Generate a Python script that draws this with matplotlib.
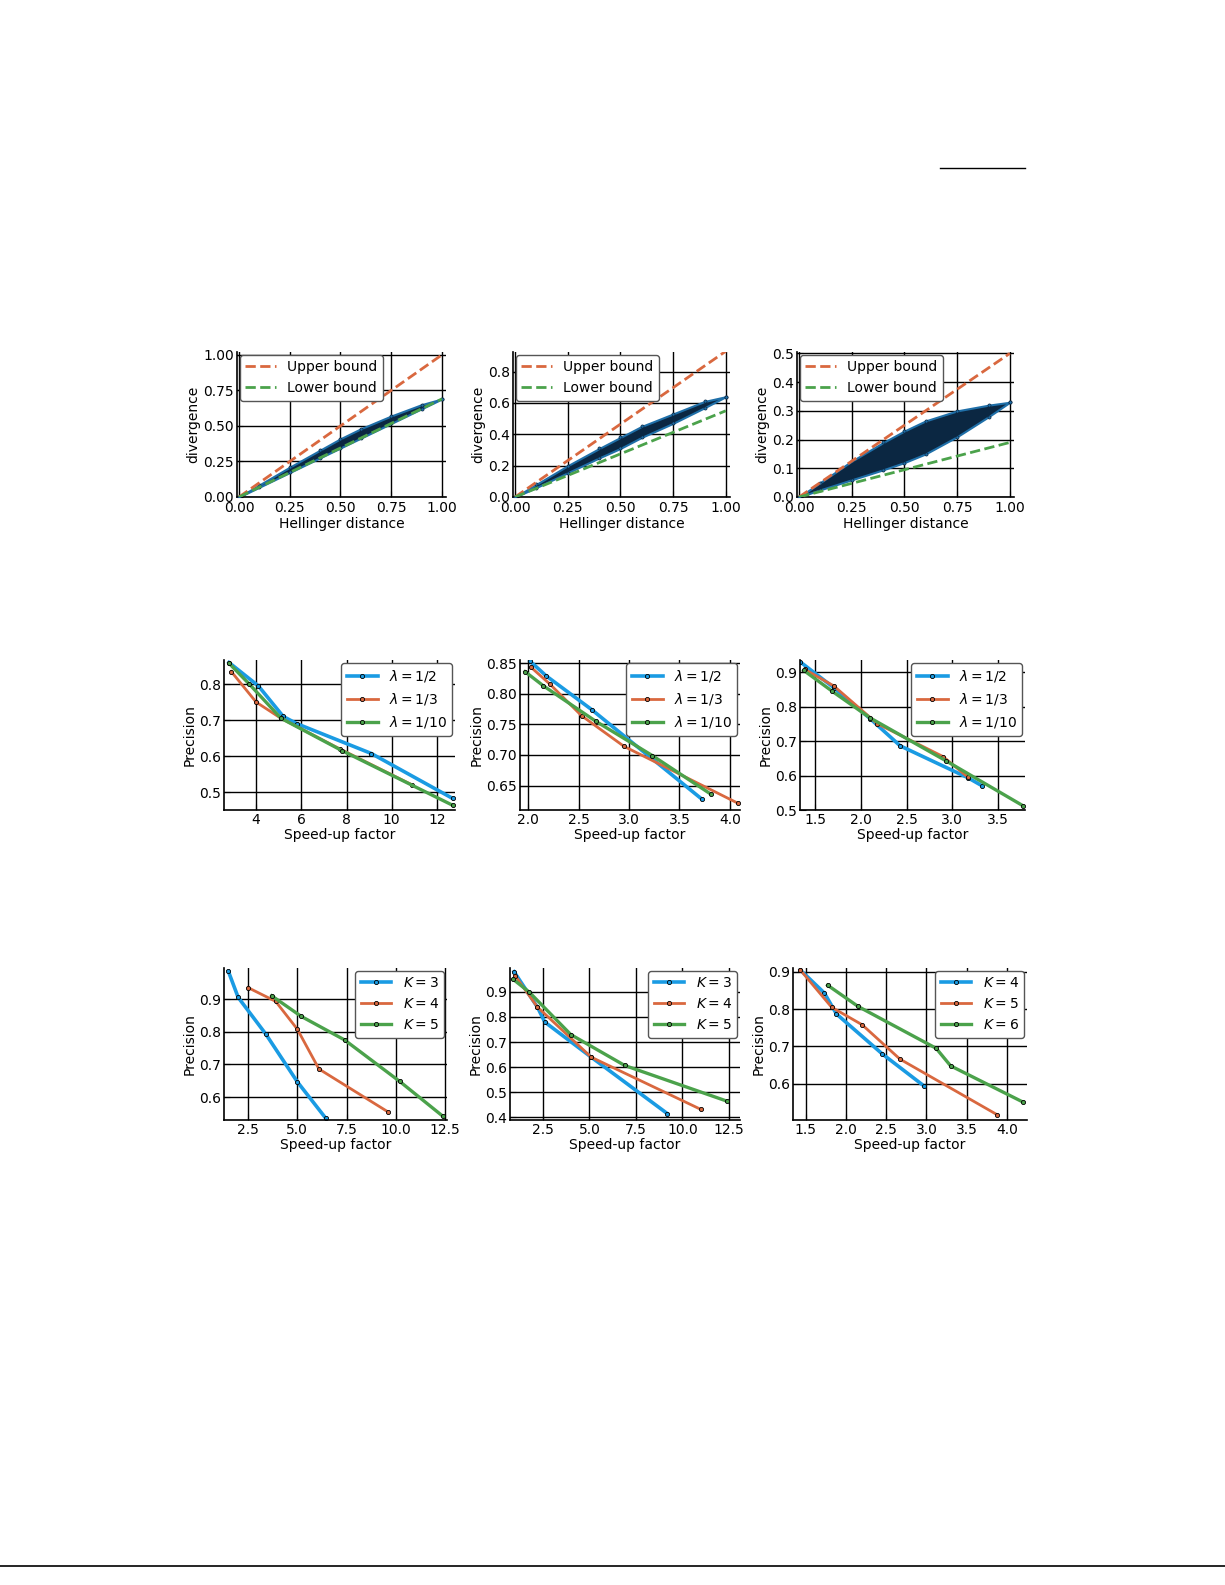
import matplotlib
matplotlib.use("Agg")
import matplotlib.pyplot as plt
from matplotlib.lines import Line2D
import numpy as np

plt.rcParams['font.family'] = ['DejaVu Sans']
plt.rcParams['mathtext.fontset'] = 'dejavusans'

W, H = 1225, 1585
BLUE, ORANGE, GREEN = "#1a9be3", "#d9683f", "#4ba24b"

# ---- Row 1: divergence vs Hellinger ----
hx = [0, 0.1, 0.25, 0.4, 0.5, 0.6, 0.75, 0.9, 1.0]
cloud_up = [[0, 0.085, 0.21, 0.33, 0.41, 0.48, 0.57, 0.65, 0.69],
            [0, 0.08, 0.2, 0.31, 0.38, 0.45, 0.53, 0.61, 0.64],
            [0, 0.05, 0.125, 0.19, 0.23, 0.265, 0.30, 0.32, 0.33]]
cloud_lo = [[0, 0.069, 0.1725, 0.276, 0.345, 0.414, 0.5175, 0.621, 0.69],
            [0, 0.06, 0.155, 0.25, 0.31, 0.38, 0.47, 0.57, 0.64],
            [0, 0.025, 0.06, 0.095, 0.12, 0.15, 0.21, 0.28, 0.33]]
upper_slope = [1.0, 0.93, 0.5]
lower_slope = [0.69, 0.55, 0.19]
r1_ylim = [(0, 1.02), (0, 0.925), (0, 0.505)]
r1_yticks = [[0, 0.25, 0.5, 0.75, 1.0], [0, 0.2, 0.4, 0.6, 0.8], [0, 0.1, 0.2, 0.3, 0.4, 0.5]]
r1_yfmt = ["%.2f", "%.1f", "%.1f"]

# ---- Row 2: lambda ----
lam_labels = [r"$\lambda = 1/2$", r"$\lambda = 1/3$", r"$\lambda = 1/10$"]
r2 = [
    [([2.8, 4.1, 5.2, 5.8, 9.1, 12.7], [0.86, 0.795, 0.71, 0.69, 0.607, 0.482]),
     ([2.9, 4.0, 5.1, 7.7, 10.9], [0.835, 0.75, 0.705, 0.62, 0.52]),
     ([2.8, 3.7, 5.1, 7.8, 12.7], [0.858, 0.80, 0.705, 0.615, 0.463])],
    [([2.02, 2.18, 2.63, 3.72], [0.853, 0.829, 0.774, 0.628]),
     ([2.03, 2.22, 2.53, 2.95, 4.08], [0.843, 0.815, 0.764, 0.714, 0.621]),
     ([1.97, 2.15, 2.67, 3.23, 3.81], [0.836, 0.813, 0.755, 0.699, 0.636])],
    [([1.33, 1.7, 2.1, 2.43, 3.17, 3.33], [0.93, 0.855, 0.765, 0.686, 0.594, 0.57]),
     ([1.38, 1.7, 2.18, 2.9, 3.17], [0.908, 0.86, 0.75, 0.655, 0.596]),
     ([1.37, 1.68, 2.1, 2.93, 3.78], [0.905, 0.845, 0.767, 0.643, 0.512])],
]
r2_xlim = [(2.58, 12.8), (1.92, 4.1), (1.33, 3.8)]
r2_ylim = [(0.45, 0.867), (0.61, 0.855), (0.5, 0.935)]
r2_xticks = [[4, 6, 8, 10, 12], [2.0, 2.5, 3.0, 3.5, 4.0], [1.5, 2.0, 2.5, 3.0, 3.5]]
r2_yticks = [[0.5, 0.6, 0.7, 0.8], [0.65, 0.7, 0.75, 0.8, 0.85], [0.5, 0.6, 0.7, 0.8, 0.9]]
r2_xfmt = ["%d", "%.1f", "%.1f"]
r2_yfmt = ["%.1f", "%.2f", "%.1f"]

# ---- Row 3: K ----
k_labels = [[r"$K = 3$", r"$K = 4$", r"$K = 5$"], [r"$K = 3$", r"$K = 4$", r"$K = 5$"],
            [r"$K = 4$", r"$K = 5$", r"$K = 6$"]]
r3 = [
    [([1.5, 2.0, 3.4, 5.0, 6.45], [0.985, 0.905, 0.793, 0.647, 0.535]),
     ([2.5, 3.9, 5.0, 6.1, 9.6], [0.935, 0.893, 0.808, 0.686, 0.555]),
     ([3.7, 5.2, 7.4, 10.2, 12.4], [0.91, 0.847, 0.775, 0.648, 0.541])],
    [([0.95, 2.2, 2.6, 5.1, 9.2], [0.98, 0.84, 0.78, 0.64, 0.415]),
     ([1.0, 2.2, 5.1, 11.0], [0.965, 0.84, 0.64, 0.432]),
     ([0.9, 1.75, 4.0, 6.9, 12.4], [0.95, 0.90, 0.73, 0.607, 0.465])],
    [([1.43, 1.73, 1.88, 2.45, 2.97], [0.905, 0.843, 0.787, 0.68, 0.594]),
     ([1.43, 1.82, 2.2, 2.67, 3.88], [0.905, 0.805, 0.758, 0.666, 0.517]),
     ([1.77, 2.15, 3.12, 3.3, 4.2], [0.864, 0.807, 0.695, 0.648, 0.551])],
]
r3_xlim = [(1.28, 12.6), (0.73, 13.1), (1.34, 4.25)]
r3_ylim = [(0.53, 0.995), (0.39, 0.995), (0.503, 0.91)]
r3_xticks = [[2.5, 5.0, 7.5, 10.0, 12.5], [2.5, 5.0, 7.5, 10.0, 12.5], [1.5, 2.0, 2.5, 3.0, 3.5, 4.0]]
r3_yticks = [[0.6, 0.7, 0.8, 0.9], [0.4, 0.5, 0.6, 0.7, 0.8, 0.9], [0.6, 0.7, 0.8, 0.9]]

fig = plt.figure(figsize=(W / 100, H / 100), dpi=100)
FS = 10

def add_ax(x0, x1, y0, y1):
    return fig.add_axes([x0 / W, 1 - y1 / H, (x1 - x0) / W, (y1 - y0) / H])

def style(ax):
    for s in ["top", "right"]:
        ax.spines[s].set_visible(False)
    ax.spines["left"].set_linewidth(1.2)
    ax.spines["bottom"].set_linewidth(1.2)
    ax.grid(True, color="black", lw=1.0)
    ax.set_axisbelow(True)
    ax.tick_params(direction="in", labelsize=FS, length=4, top=False, right=False, pad=2)

def fmt(ax, xf, yf):
    ax.xaxis.set_major_formatter(matplotlib.ticker.FormatStrFormatter(xf))
    ax.yaxis.set_major_formatter(matplotlib.ticker.FormatStrFormatter(yf))

r1_box = [(237, 446), (513, 730), (797, 1014)]
for i, (a, b) in enumerate(r1_box):
    ax = add_ax(a, b, 352, 497)
    style(ax)
    xs = np.array([0, 1.0])
    ax.fill_between(hx, cloud_lo[i], cloud_up[i], color="#0b2742", edgecolor="#1f6fa8", lw=1.5, zorder=2)
    ax.scatter(hx, cloud_up[i], s=5, color="#1f6fa8", edgecolor="#0b2742", lw=0.5, zorder=3)
    ax.scatter(hx, cloud_lo[i], s=5, color="#1f6fa8", edgecolor="#0b2742", lw=0.5, zorder=3)
    ax.plot(xs, upper_slope[i] * xs, "--", color=ORANGE, lw=2, label="Upper bound", zorder=4)
    ax.plot(xs, lower_slope[i] * xs, "--", color=GREEN, lw=2, label="Lower bound", zorder=4)
    ax.set_xlim(-0.01, 1.02)
    ax.set_ylim(*r1_ylim[i])
    ax.set_xticks([0, 0.25, 0.5, 0.75, 1.0])
    ax.set_yticks(r1_yticks[i])
    fmt(ax, "%.2f", r1_yfmt[i])
    ax.tick_params(axis="x", pad=3)
    ax.set_xlabel("Hellinger distance", fontsize=FS, labelpad=1)
    ax.set_ylabel("divergence", fontsize=FS, labelpad=2)
    ax.legend(loc="upper left", fontsize=FS, framealpha=1, edgecolor="#555555",
              handlelength=2.2, borderaxespad=0.2)

def lines_panel(ax, data, labels):
    for (x, y), c, lab, lw in zip(data, [BLUE, ORANGE, GREEN], labels, [2.6, 2.0, 2.4]):
        ax.plot(x, y, "-", color=c, lw=lw, marker="o", ms=3, mfc=c, mec="black", mew=0.6, label=lab)
    ax.set_ylabel("Precision", fontsize=FS, labelpad=2)
    ax.set_xlabel("Speed-up factor", fontsize=FS, labelpad=1)
    ax.legend(loc="upper right", fontsize=FS, framealpha=1, edgecolor="#555555",
              handlelength=2.2, borderaxespad=0.2)

r2_box = [(224, 455), (520, 740), (800, 1025)]
for i, (a, b) in enumerate(r2_box):
    ax = add_ax(a, b, 660, 810)
    style(ax)
    lines_panel(ax, r2[i], lam_labels)
    ax.set_xlim(*r2_xlim[i]); ax.set_ylim(*r2_ylim[i])
    ax.set_xticks(r2_xticks[i]); ax.set_yticks(r2_yticks[i])
    fmt(ax, r2_xfmt[i], r2_yfmt[i])

r3_box = [(224, 447), (510, 740), (793, 1027)]
for i, (a, b) in enumerate(r3_box):
    ax = add_ax(a, b, 968, 1120)
    style(ax)
    lines_panel(ax, r3[i], k_labels[i])
    ax.set_xlim(*r3_xlim[i]); ax.set_ylim(*r3_ylim[i])
    ax.set_xticks(r3_xticks[i]); ax.set_yticks(r3_yticks[i])
    fmt(ax, "%.1f", "%.1f")

fig.add_artist(Line2D([940 / W, 1025 / W], [1 - 168 / H] * 2, color="black", lw=1))
fig.add_artist(Line2D([0, 1], [1 - 1566 / H] * 2, color="black", lw=1.2))

fig.savefig("out.png", dpi=100, facecolor="white")
